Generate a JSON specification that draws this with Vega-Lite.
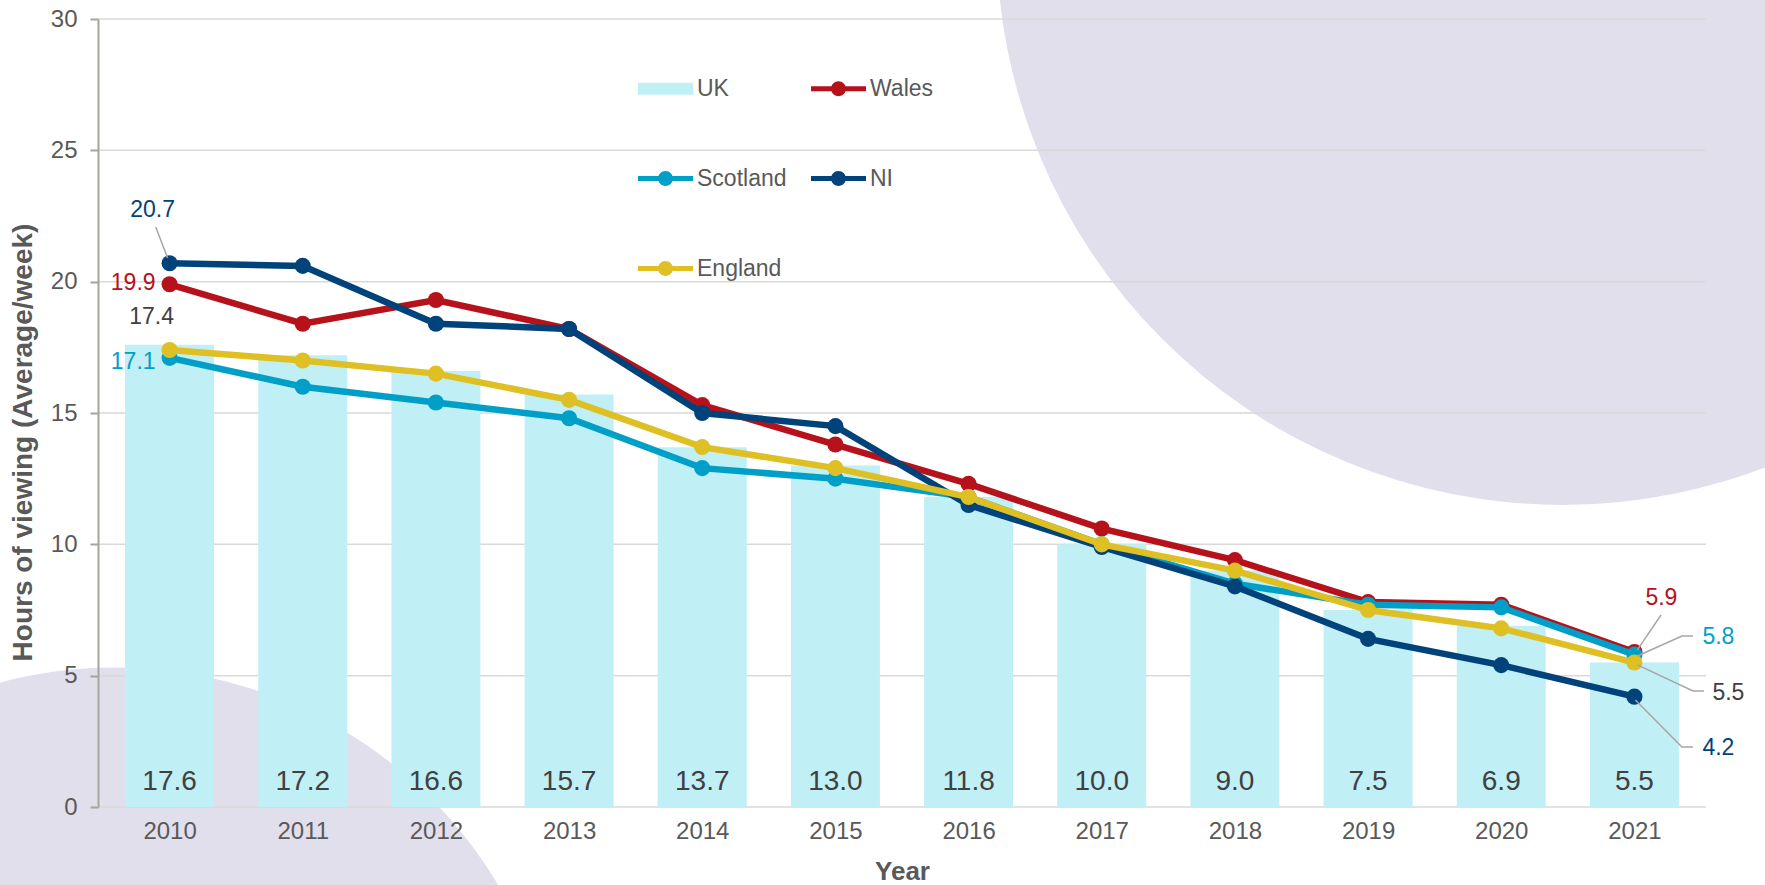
{
  "$schema": "https://vega.github.io/schema/vega-lite/v6.json",
  "width": 1608,
  "height": 788,
  "autosize": {"type": "none"},
  "padding": {"left": 98, "top": 19, "right": 59, "bottom": 78},
  "background": "white",
  "config": {
    "font": "Liberation Sans",
    "view": {"stroke": null},
    "axisX": {
      "ticks": false,
      "domain": false,
      "grid": false,
      "labelFontSize": 24,
      "labelColor": "#595959",
      "labelPadding": 12,
      "titleFontSize": 26,
      "titleFontWeight": "bold",
      "titleColor": "#595959"
    },
    "axisY": {
      "grid": false,
      "domainColor": "#a5a598",
      "domainWidth": 2,
      "tickColor": "#a5a598",
      "tickSize": 8,
      "tickWidth": 2,
      "labelFontSize": 24,
      "labelColor": "#595959",
      "labelPadding": 13,
      "titleFontSize": 28,
      "titleFontWeight": "bold",
      "titleColor": "#595959"
    },
    "legend": {
      "orient": "none",
      "legendX": 540,
      "legendY": 42,
      "columns": 2,
      "columnPadding": 24,
      "rowPadding": 50,
      "symbolSize": 3025,
      "labelFontSize": 23,
      "labelColor": "#595959",
      "labelFont": "Liberation Sans",
      "labelOffset": 4
    }
  },
  "datasets": {
    "main": [
      {"year": 2010, "series": "UK", "value": 17.6},
      {"year": 2011, "series": "UK", "value": 17.2},
      {"year": 2012, "series": "UK", "value": 16.6},
      {"year": 2013, "series": "UK", "value": 15.7},
      {"year": 2014, "series": "UK", "value": 13.7},
      {"year": 2015, "series": "UK", "value": 13.0},
      {"year": 2016, "series": "UK", "value": 11.8},
      {"year": 2017, "series": "UK", "value": 10.0},
      {"year": 2018, "series": "UK", "value": 9.0},
      {"year": 2019, "series": "UK", "value": 7.5},
      {"year": 2020, "series": "UK", "value": 6.9},
      {"year": 2021, "series": "UK", "value": 5.5},
      {"year": 2010, "series": "Wales", "value": 19.9},
      {"year": 2011, "series": "Wales", "value": 18.4},
      {"year": 2012, "series": "Wales", "value": 19.3},
      {"year": 2013, "series": "Wales", "value": 18.2},
      {"year": 2014, "series": "Wales", "value": 15.3},
      {"year": 2015, "series": "Wales", "value": 13.8},
      {"year": 2016, "series": "Wales", "value": 12.3},
      {"year": 2017, "series": "Wales", "value": 10.6},
      {"year": 2018, "series": "Wales", "value": 9.4},
      {"year": 2019, "series": "Wales", "value": 7.8},
      {"year": 2020, "series": "Wales", "value": 7.7},
      {"year": 2021, "series": "Wales", "value": 5.9},
      {"year": 2010, "series": "Scotland", "value": 17.1},
      {"year": 2011, "series": "Scotland", "value": 16.0},
      {"year": 2012, "series": "Scotland", "value": 15.4},
      {"year": 2013, "series": "Scotland", "value": 14.8},
      {"year": 2014, "series": "Scotland", "value": 12.9},
      {"year": 2015, "series": "Scotland", "value": 12.5},
      {"year": 2016, "series": "Scotland", "value": 11.8},
      {"year": 2017, "series": "Scotland", "value": 10.0},
      {"year": 2018, "series": "Scotland", "value": 8.5},
      {"year": 2019, "series": "Scotland", "value": 7.7},
      {"year": 2020, "series": "Scotland", "value": 7.6},
      {"year": 2021, "series": "Scotland", "value": 5.8},
      {"year": 2010, "series": "NI", "value": 20.7},
      {"year": 2011, "series": "NI", "value": 20.6},
      {"year": 2012, "series": "NI", "value": 18.4},
      {"year": 2013, "series": "NI", "value": 18.2},
      {"year": 2014, "series": "NI", "value": 15.0},
      {"year": 2015, "series": "NI", "value": 14.5},
      {"year": 2016, "series": "NI", "value": 11.5},
      {"year": 2017, "series": "NI", "value": 9.9},
      {"year": 2018, "series": "NI", "value": 8.4},
      {"year": 2019, "series": "NI", "value": 6.4},
      {"year": 2020, "series": "NI", "value": 5.4},
      {"year": 2021, "series": "NI", "value": 4.2},
      {"year": 2010, "series": "England", "value": 17.4},
      {"year": 2011, "series": "England", "value": 17.0},
      {"year": 2012, "series": "England", "value": 16.5},
      {"year": 2013, "series": "England", "value": 15.5},
      {"year": 2014, "series": "England", "value": 13.7},
      {"year": 2015, "series": "England", "value": 12.9},
      {"year": 2016, "series": "England", "value": 11.8},
      {"year": 2017, "series": "England", "value": 10.0},
      {"year": 2018, "series": "England", "value": 9.0},
      {"year": 2019, "series": "England", "value": 7.5},
      {"year": 2020, "series": "England", "value": 6.8},
      {"year": 2021, "series": "England", "value": 5.5}
    ],
    "grid": [
      {"g": 0}, {"g": 5}, {"g": 10}, {"g": 15}, {"g": 20}, {"g": 25}, {"g": 30}
    ],
    "deco": [
      {"id": "topright", "cx": 2020.46, "cy": 33.05},
      {"id": "bottomleft", "cx": 2009.59, "cy": -11.69}
    ],
    "leaders": [
      {"lid": "NI2010", "ord": 1, "lx": 2009.896, "ly": 22.08},
      {"lid": "NI2010", "ord": 2, "lx": 2009.985, "ly": 20.9},
      {"lid": "W2021", "ord": 1, "lx": 2021.2, "ly": 7.31},
      {"lid": "W2021", "ord": 2, "lx": 2021.022, "ly": 5.98},
      {"lid": "S2021", "ord": 1, "lx": 2021.44, "ly": 6.51},
      {"lid": "S2021", "ord": 2, "lx": 2021.357, "ly": 6.51},
      {"lid": "S2021", "ord": 3, "lx": 2021.022, "ly": 5.75},
      {"lid": "E2021", "ord": 1, "lx": 2021.522, "ly": 4.42},
      {"lid": "E2021", "ord": 2, "lx": 2021.44, "ly": 4.42},
      {"lid": "E2021", "ord": 3, "lx": 2021.022, "ly": 5.41},
      {"lid": "N2021", "ord": 1, "lx": 2021.44, "ly": 2.28},
      {"lid": "N2021", "ord": 2, "lx": 2021.357, "ly": 2.28},
      {"lid": "N2021", "ord": 3, "lx": 2021.007, "ly": 4.07}
    ]
  },
  "layer": [
    {
      "data": {"name": "deco"},
      "transform": [{"filter": "datum.id === 'topright'"}],
      "mark": {"type": "point", "filled": true, "opacity": 1, "color": "#e2dfec", "size": 1281400, "strokeWidth": 0},
      "encoding": {
        "x": {"field": "cx", "type": "quantitative", "title": "Year", "scale": {"domain": [2009.5, 2021.5], "nice": false, "zero": false}},
        "y": {"field": "cy", "type": "quantitative", "title": "Hours of viewing (Average/week)", "scale": {"domain": [0, 30], "nice": false}}
      }
    },
    {
      "data": {"name": "deco"},
      "transform": [{"filter": "datum.id === 'bottomleft'"}],
      "mark": {"type": "point", "filled": true, "opacity": 1, "color": "#e2dfec", "size": 797400, "strokeWidth": 0},
      "encoding": {
        "x": {"field": "cx", "type": "quantitative", "title": "Year"},
        "y": {"field": "cy", "type": "quantitative", "title": "Hours of viewing (Average/week)"}
      }
    },
    {
      "data": {"name": "grid"},
      "mark": {"type": "rule", "color": "#d9d9d9", "strokeWidth": 1.5},
      "encoding": {
        "y": {"field": "g", "type": "quantitative", "title": "Hours of viewing (Average/week)"}
      }
    },
    {
      "data": {"name": "main"},
      "transform": [{"filter": "datum.series === 'UK'"}],
      "mark": {"type": "bar", "width": 89, "color": "#c0eff5"},
      "encoding": {
        "x": {
          "field": "year", "type": "quantitative", "title": "Year",
          "scale": {"domain": [2009.5, 2021.5], "nice": false, "zero": false},
          "axis": {
            "values": [2010, 2011, 2012, 2013, 2014, 2015, 2016, 2017, 2018, 2019, 2020, 2021],
            "format": "d",
            "labelFlush": false,
            "titleBaseline": "middle",
            "titleY": 64,
            "zindex": 1
          }
        },
        "y": {
          "field": "value", "type": "quantitative", "title": "Hours of viewing (Average/week)",
          "scale": {"domain": [0, 30], "nice": false},
          "axis": {
            "values": [0, 5, 10, 15, 20, 25, 30],
            "titleBaseline": "middle",
            "titleX": -75,
            "titleY": 423,
            "zindex": 1
          }
        }
      }
    },
    {
      "data": {"name": "main"},
      "transform": [{"filter": "datum.series === 'UK'"}],
      "mark": {"type": "text", "fontSize": 28, "color": "#404040", "dy": -25},
      "encoding": {
        "x": {"field": "year", "type": "quantitative", "title": "Year"},
        "y": {"datum": 0, "type": "quantitative", "title": "Hours of viewing (Average/week)"},
        "text": {"field": "value", "type": "quantitative", "format": ".1f"}
      }
    },
    {
      "data": {"name": "main"},
      "transform": [{"filter": "datum.series === 'Wales'"}],
      "mark": {"type": "line", "strokeWidth": 6.5, "point": {"filled": true, "size": 260, "opacity": 1}},
      "encoding": {
        "x": {"field": "year", "type": "quantitative", "title": "Year"},
        "y": {"field": "value", "type": "quantitative", "title": "Hours of viewing (Average/week)"},
        "color": {"field": "series", "type": "nominal", "title": null, "scale": {"domain": ["UK", "Scotland", "England", "Wales", "NI"], "range": ["#c0eff5", "#009fc8", "#dfc024", "#b5121b", "#00437b"]}}
      }
    },
    {
      "data": {"name": "main"},
      "transform": [{"filter": "datum.series === 'Scotland'"}],
      "mark": {"type": "line", "strokeWidth": 6.5, "point": {"filled": true, "size": 260, "opacity": 1}},
      "encoding": {
        "x": {"field": "year", "type": "quantitative", "title": "Year"},
        "y": {"field": "value", "type": "quantitative", "title": "Hours of viewing (Average/week)"},
        "color": {"field": "series", "type": "nominal", "title": null}
      }
    },
    {
      "data": {"name": "main"},
      "transform": [{"filter": "datum.series === 'NI'"}],
      "mark": {"type": "line", "strokeWidth": 6.5, "point": {"filled": true, "size": 260, "opacity": 1}},
      "encoding": {
        "x": {"field": "year", "type": "quantitative", "title": "Year"},
        "y": {"field": "value", "type": "quantitative", "title": "Hours of viewing (Average/week)"},
        "color": {"field": "series", "type": "nominal", "title": null}
      }
    },
    {
      "data": {"name": "main"},
      "transform": [{"filter": "datum.series === 'England'"}],
      "mark": {"type": "line", "strokeWidth": 6.5, "point": {"filled": true, "size": 260, "opacity": 1}},
      "encoding": {
        "x": {"field": "year", "type": "quantitative", "title": "Year"},
        "y": {"field": "value", "type": "quantitative", "title": "Hours of viewing (Average/week)"},
        "color": {
          "field": "series", "type": "nominal", "title": null,
          "legend": {
            "encode": {
              "symbols": {
                "update": {
                  "shape": {"signal": "datum.value === 'UK' ? 'M-1,-0.22L1,-0.22L1,0.22L-1,0.22Z' : 'M-1,-0.09L1,-0.09L1,0.09L-1,0.09ZM-0.27,0A0.27,0.27,0,1,1,0.27,0A0.27,0.27,0,1,1,-0.27,0Z'"},
                  "fill": {"scale": "color", "field": "value"},
                  "strokeWidth": {"value": 0},
                  "opacity": {"value": 1}
                }
              }
            }
          }
        }
      }
    },
    {
      "data": {"name": "leaders"},
      "mark": {"type": "line", "color": "#a6a6a6", "strokeWidth": 1.5},
      "encoding": {
        "x": {"field": "lx", "type": "quantitative", "title": "Year"},
        "y": {"field": "ly", "type": "quantitative", "title": "Hours of viewing (Average/week)"},
        "detail": {"field": "lid", "type": "nominal"},
        "order": {"field": "ord", "type": "quantitative"}
      }
    },
    {
      "data": {"name": "main"},
      "transform": [{"filter": "datum.series === 'NI' && datum.year === 2010"}],
      "mark": {"type": "text", "fontSize": 23, "color": "#00437b", "dx": -17, "dy": -53},
      "encoding": {
        "x": {"field": "year", "type": "quantitative", "title": "Year"},
        "y": {"field": "value", "type": "quantitative", "title": "Hours of viewing (Average/week)"},
        "text": {"field": "value", "type": "quantitative", "format": ".1f"}
      }
    },
    {
      "data": {"name": "main"},
      "transform": [{"filter": "datum.series === 'Wales' && datum.year === 2010"}],
      "mark": {"type": "text", "fontSize": 23, "color": "#b5121b", "align": "right", "dx": -14, "dy": -1},
      "encoding": {
        "x": {"field": "year", "type": "quantitative", "title": "Year"},
        "y": {"field": "value", "type": "quantitative", "title": "Hours of viewing (Average/week)"},
        "text": {"field": "value", "type": "quantitative", "format": ".1f"}
      }
    },
    {
      "data": {"name": "main"},
      "transform": [{"filter": "datum.series === 'England' && datum.year === 2010"}],
      "mark": {"type": "text", "fontSize": 23, "color": "#404040", "dx": -18, "dy": -33},
      "encoding": {
        "x": {"field": "year", "type": "quantitative", "title": "Year"},
        "y": {"field": "value", "type": "quantitative", "title": "Hours of viewing (Average/week)"},
        "text": {"field": "value", "type": "quantitative", "format": ".1f"}
      }
    },
    {
      "data": {"name": "main"},
      "transform": [{"filter": "datum.series === 'Scotland' && datum.year === 2010"}],
      "mark": {"type": "text", "fontSize": 23, "color": "#009fc8", "align": "right", "dx": -14, "dy": 4},
      "encoding": {
        "x": {"field": "year", "type": "quantitative", "title": "Year"},
        "y": {"field": "value", "type": "quantitative", "title": "Hours of viewing (Average/week)"},
        "text": {"field": "value", "type": "quantitative", "format": ".1f"}
      }
    },
    {
      "data": {"name": "main"},
      "transform": [{"filter": "datum.series === 'Wales' && datum.year === 2021"}],
      "mark": {"type": "text", "fontSize": 23, "color": "#b5121b", "dx": 27, "dy": -54},
      "encoding": {
        "x": {"field": "year", "type": "quantitative", "title": "Year"},
        "y": {"field": "value", "type": "quantitative", "title": "Hours of viewing (Average/week)"},
        "text": {"field": "value", "type": "quantitative", "format": ".1f"}
      }
    },
    {
      "data": {"name": "main"},
      "transform": [{"filter": "datum.series === 'Scotland' && datum.year === 2021"}],
      "mark": {"type": "text", "fontSize": 23, "color": "#009fc8", "dx": 84, "dy": -18},
      "encoding": {
        "x": {"field": "year", "type": "quantitative", "title": "Year"},
        "y": {"field": "value", "type": "quantitative", "title": "Hours of viewing (Average/week)"},
        "text": {"field": "value", "type": "quantitative", "format": ".1f"}
      }
    },
    {
      "data": {"name": "main"},
      "transform": [{"filter": "datum.series === 'England' && datum.year === 2021"}],
      "mark": {"type": "text", "fontSize": 23, "color": "#404040", "dx": 94, "dy": 30},
      "encoding": {
        "x": {"field": "year", "type": "quantitative", "title": "Year"},
        "y": {"field": "value", "type": "quantitative", "title": "Hours of viewing (Average/week)"},
        "text": {"field": "value", "type": "quantitative", "format": ".1f"}
      }
    },
    {
      "data": {"name": "main"},
      "transform": [{"filter": "datum.series === 'NI' && datum.year === 2021"}],
      "mark": {"type": "text", "fontSize": 23, "color": "#00437b", "dx": 84, "dy": 51},
      "encoding": {
        "x": {"field": "year", "type": "quantitative", "title": "Year"},
        "y": {"field": "value", "type": "quantitative", "title": "Hours of viewing (Average/week)"},
        "text": {"field": "value", "type": "quantitative", "format": ".1f"}
      }
    }
  ]
}
